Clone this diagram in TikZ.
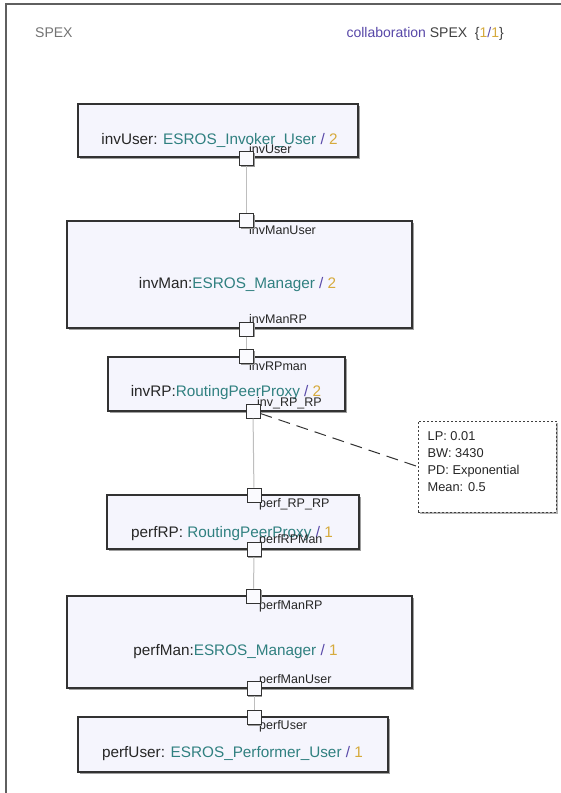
\documentclass[tikz,border=0pt]{standalone}
\usepackage{fontspec}
\setmainfont{Liberation Sans}
\usetikzlibrary{positioning, calc, shadows}
\definecolor{boxfill}{RGB}{245,245,253}
\definecolor{boxline}{RGB}{50,50,50}
\definecolor{typecol}{RGB}{48,128,128}
\definecolor{slashcol}{RGB}{88,72,168}
\definecolor{multcol}{RGB}{214,170,60}
\definecolor{framecol}{RGB}{95,95,95}
\definecolor{wirecol}{RGB}{190,190,190}
\definecolor{titlecol}{RGB}{115,115,115}
\newcommand{\inst}[3]{#1\textcolor{typecol}{#2} \textcolor{slashcol}{/} \textcolor{multcol}{#3}}
\tikzset{
    % boxes for the parts
    part/.style={
           rectangle,
           draw=boxline, line width=1.2pt,
           fill=boxfill,
           inner sep=0pt,
           general shadow={fill=gray!75, shadow xshift=2pt, shadow yshift=-2pt}},
    % small squares for the ports
    port/.style={
           rectangle,
           draw=boxline, line width=1pt,
           fill=boxfill!50!white,
           minimum size=14pt,
           inner sep=0pt,
           general shadow={fill=gray!80, shadow xshift=1.3pt, shadow yshift=-1.3pt}},
    % texts
    partname/.style={font=\fontsize{15.3}{18}\selectfont, text=black!85, anchor=base, inner sep=0pt},
    portname/.style={font=\fontsize{12.5}{14}\selectfont, text=black!85, anchor=base west, inner sep=0pt},
    % connectors
    wire/.style={draw=wirecol, line width=1pt},
    noteline/.style={draw=black!80, line width=1pt, dash pattern=on 12pt off 7pt},
    notebox/.style={
           rectangle,
           draw=black!75, line width=1pt, dash pattern=on 2pt off 2pt,
           fill=white,
           minimum width=138pt, minimum height=91pt,
           general shadow={fill=gray!60, shadow xshift=1.5pt, shadow yshift=-1.5pt}}
}
\begin{document}
\begin{tikzpicture}[x=1pt, y=-1pt]
\useasboundingbox (0,0) rectangle (561,793);
\clip (0,0) rectangle (561,793);
\fill[white] (0,0) rectangle (561,793);
% frame
\draw[framecol, line width=2pt] (6,4) rectangle (640,900);
\node[anchor=base west, font=\fontsize{14}{16}\selectfont, text=titlecol, inner sep=0pt] (title) at (35,37) {SPEX};
\node[anchor=base east, font=\fontsize{14}{16}\selectfont, text=black!75, inner sep=0pt] (collab) at (504,37)
    {\textcolor{slashcol}{collaboration} SPEX\ \ \{\textcolor{multcol}{1}\textcolor{slashcol}{/}\textcolor{multcol}{1}\}};

% parts
\node[part, minimum width=280pt, minimum height=53pt] (bu) at (218,130.5) {};
\node[part, minimum width=345pt, minimum height=107pt] (bm) at (239.5,274.5) {};
\node[part, minimum width=237pt, minimum height=54pt] (brp) at (226.5,384) {};
\node[part, minimum width=252pt, minimum height=54pt] (prp) at (233,522) {};
\node[part, minimum width=345pt, minimum height=92pt] (pm) at (239.5,642) {};
\node[part, minimum width=310pt, minimum height=55pt] (pu) at (233,744.5) {};

\node[partname] (tbu) at (219.5,144) {\inst{invUser: }{ESROS\_Invoker\_User}{2}};
\node[partname] (tbm) at (237.5,288) {\inst{invMan:}{ESROS\_Manager}{2}};
\node[partname] (tbrp) at (226,396) {\inst{invRP:}{RoutingPeerProxy}{2}};
\node[partname] (tprp) at (232,537) {\inst{perfRP: }{RoutingPeerProxy}{1}};
\node[partname] (tpm) at (235.5,655) {\inst{perfMan:}{ESROS\_Manager}{1}};
\node[partname] (tpu) at (232.5,757) {\inst{perfUser: }{ESROS\_Performer\_User}{1}};

% port names (under the squares)
\node[portname] (liu) at (249,153) {invUser};
\node[portname] (limu) at (249,234) {invManUser};
\node[portname] (limr) at (249,323) {invManRP};
\node[portname] (lirm) at (249,370) {invRPman};
\node[portname] (lirr) at (257,406) {inv\_RP\_RP};
\node[portname] (lprr) at (259,507) {perf\_RP\_RP};
\node[portname] (lprm) at (259,543) {perfRPMan};
\node[portname] (lpmr) at (259,609) {perfManRP};
\node[portname] (lpmu) at (259,683) {perfManUser};
\node[portname] (lpus) at (259,729) {perfUser};

% ports
\node[port] (iu) at (246.5,158.5) {};
\node[port] (imu) at (246.5,220.5) {};
\node[port] (imr) at (246.5,329) {};
\node[port] (irm) at (246.5,356.5) {};
\node[port] (irr) at (253,411) {};
\node[port] (prr) at (254,495) {};
\node[port] (prm) at (254,549.5) {};
\node[port] (pmr) at (253.5,596) {};
\node[port] (pmu) at (254,688.5) {};
\node[port] (pus) at (254,717.5) {};

% note
\node[notebox] (nt) at (487,466.5) {};
\node[anchor=north west, align=left, inner sep=0pt, font=\fontsize{12.8}{17}\selectfont, text=black!85] (ntx) at ($(nt.north west)+(10,11)$)
    {LP: 0.01\\BW: 3430\\PD: Exponential\\Mean: 0.5};

\path
% connectors between ports
(iu) edge[wire] (imu)
(imr) edge[wire] (irm)
(irr) edge[wire] (prr)
(prm) edge[wire] (pmr)
(pmu) edge[wire] (pus)
% note link
(irr) edge[noteline] (nt.west);

\end{tikzpicture}
\end{document}
